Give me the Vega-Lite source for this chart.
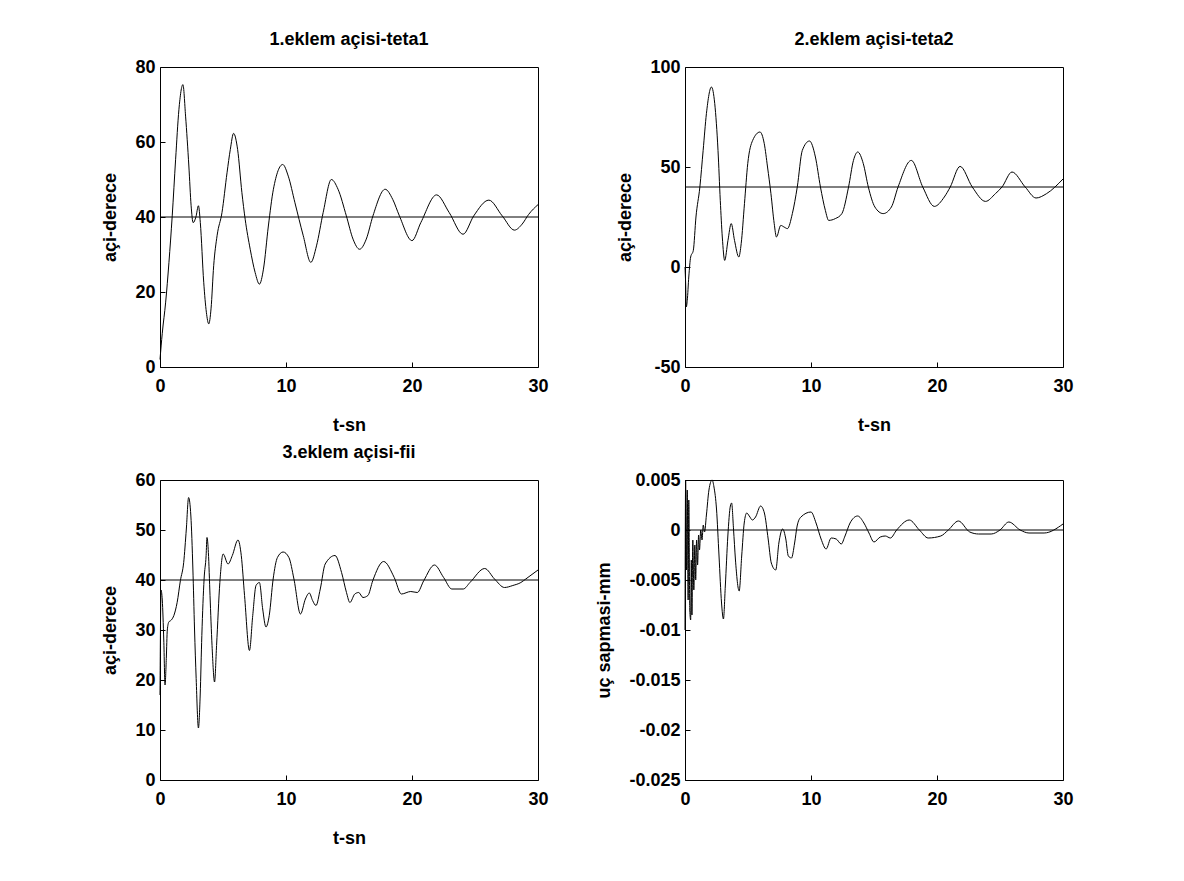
{
  "$schema": "https://vega.github.io/schema/vega-lite/v6.json",
  "background": "white",
  "padding": {"left": 101, "top": 30, "right": 5, "bottom": 5},
  "datasets": {
    "d1": [
      {"t":0,"v":2},{"t":0.18,"v":9},{"t":0.45,"v":17.3},{"t":0.71,"v":27.9},{"t":0.97,"v":40.3},{"t":1.24,"v":55.4},{"t":1.5,"v":68.6},{"t":1.82,"v":75.3},{"t":2.03,"v":66.9},{"t":2.29,"v":53.6},{"t":2.47,"v":43},{"t":2.63,"v":38.5},{"t":2.85,"v":40},{"t":3.05,"v":43},{"t":3.2,"v":38.5},{"t":3.47,"v":22.6},{"t":3.68,"v":14.6},{"t":3.87,"v":11.5},{"t":4.05,"v":15.5},{"t":4.26,"v":27},{"t":4.53,"v":35},{"t":4.92,"v":41.2},{"t":5.32,"v":51.8},{"t":5.58,"v":58},{"t":5.84,"v":62.3},{"t":6.16,"v":58},{"t":6.5,"v":46.5},{"t":6.76,"v":39.4},{"t":7.16,"v":31.4},{"t":7.55,"v":25.2},{"t":7.89,"v":22.1},{"t":8.21,"v":26.1},{"t":8.6,"v":37.6},{"t":9.0,"v":47.4},{"t":9.74,"v":54},{"t":10.18,"v":50.9},{"t":10.71,"v":43.8},{"t":11.37,"v":35},{"t":11.97,"v":27.9},{"t":12.42,"v":32.3},{"t":12.95,"v":41.2},{"t":13.6,"v":50},{"t":14.13,"v":47.4},{"t":14.79,"v":40.3},{"t":15.32,"v":34.1},{"t":15.84,"v":31.4},{"t":16.37,"v":34.1},{"t":16.9,"v":40.3},{"t":17.87,"v":47.4},{"t":18.47,"v":44.7},{"t":19,"v":40.3},{"t":20,"v":33.7},{"t":20.7,"v":38.5},{"t":21.95,"v":45.9},{"t":22.95,"v":41.2},{"t":24.05,"v":35.4},{"t":24.9,"v":40.3},{"t":26.1,"v":44.5},{"t":27.16,"v":40.3},{"t":28.13,"v":36.5},{"t":28.74,"v":38.1},{"t":29.26,"v":40.7},{"t":30,"v":43.3}
    ],
    "d2": [
      {"t":0,"v":0},{"t":0.05,"v":-8},{"t":0.1,"v":-20},{"t":0.18,"v":-16.7},{"t":0.3,"v":-5},{"t":0.45,"v":5},{"t":0.66,"v":8.3},{"t":0.87,"v":25},{"t":1.18,"v":40},{"t":1.44,"v":58.3},{"t":1.7,"v":76.7},{"t":2.1,"v":90},{"t":2.36,"v":81.7},{"t":2.62,"v":58.3},{"t":2.8,"v":33.3},{"t":2.96,"v":15},{"t":3.15,"v":3.3},{"t":3.41,"v":13.3},{"t":3.67,"v":21.7},{"t":3.93,"v":13.3},{"t":4.27,"v":5},{"t":4.46,"v":11.7},{"t":4.72,"v":31.7},{"t":4.98,"v":51.7},{"t":5.37,"v":63.3},{"t":5.95,"v":67.5},{"t":6.29,"v":61.7},{"t":6.55,"v":50},{"t":6.82,"v":36.7},{"t":7.08,"v":21.7},{"t":7.26,"v":15},{"t":7.6,"v":20.8},{"t":7.86,"v":20},{"t":8.13,"v":19.2},{"t":8.52,"v":26.7},{"t":8.91,"v":40},{"t":9.31,"v":58.3},{"t":9.88,"v":63},{"t":10.35,"v":55},{"t":10.75,"v":40},{"t":11.14,"v":28.3},{"t":11.4,"v":23.3},{"t":11.93,"v":24.2},{"t":12.45,"v":26.7},{"t":12.98,"v":40},{"t":13.37,"v":53.3},{"t":13.71,"v":57.5},{"t":14.15,"v":51.7},{"t":14.55,"v":40},{"t":15.07,"v":30},{"t":15.73,"v":26.7},{"t":16.38,"v":30},{"t":16.91,"v":40},{"t":17.96,"v":53.3},{"t":18.87,"v":40},{"t":19.79,"v":30.3},{"t":20.58,"v":35},{"t":21.05,"v":40},{"t":21.83,"v":50.3},{"t":22.8,"v":40},{"t":23.85,"v":32.8},{"t":24.64,"v":36.7},{"t":25.16,"v":40},{"t":25.95,"v":47.5},{"t":27,"v":40},{"t":27.86,"v":34.5},{"t":28.7,"v":36.7},{"t":30,"v":44}
    ],
    "d3": [
      {"t":0,"v":17},{"t":0.08,"v":38},{"t":0.18,"v":36},{"t":0.3,"v":28},{"t":0.4,"v":19},{"t":0.5,"v":24.3},{"t":0.58,"v":30},{"t":0.7,"v":31.6},{"t":0.9,"v":32},{"t":1.1,"v":32.9},{"t":1.36,"v":35.5},{"t":1.62,"v":39.9},{"t":1.88,"v":43.5},{"t":2.09,"v":50.2},{"t":2.27,"v":56.5},{"t":2.45,"v":52.8},{"t":2.61,"v":42.2},{"t":2.74,"v":30.2},{"t":2.87,"v":20.3},{"t":3.05,"v":10.4},{"t":3.19,"v":17},{"t":3.32,"v":28.9},{"t":3.5,"v":40.2},{"t":3.66,"v":44.9},{"t":3.73,"v":48.5},{"t":3.84,"v":45.5},{"t":3.97,"v":36.9},{"t":4.13,"v":26.9},{"t":4.33,"v":19.6},{"t":4.49,"v":26.9},{"t":4.75,"v":39.5},{"t":5.01,"v":45.2},{"t":5.4,"v":43.2},{"t":5.74,"v":44.9},{"t":6.19,"v":48},{"t":6.45,"v":44.9},{"t":6.71,"v":36.9},{"t":7.1,"v":25.9},{"t":7.36,"v":32.9},{"t":7.62,"v":38.9},{"t":7.89,"v":39.5},{"t":8.15,"v":34.2},{"t":8.41,"v":30.6},{"t":8.67,"v":32.9},{"t":8.98,"v":40.2},{"t":9.32,"v":44.5},{"t":9.77,"v":45.6},{"t":10.23,"v":44.5},{"t":10.63,"v":40.2},{"t":11.15,"v":33.2},{"t":11.54,"v":36.2},{"t":11.85,"v":37.4},{"t":12.11,"v":35.9},{"t":12.38,"v":34.9},{"t":12.72,"v":38.2},{"t":13.11,"v":43.2},{"t":13.89,"v":44.9},{"t":14.41,"v":41.5},{"t":14.8,"v":37.5},{"t":15.07,"v":35.5},{"t":15.46,"v":37.2},{"t":15.77,"v":37.5},{"t":16.11,"v":36.5},{"t":16.5,"v":36.9},{"t":16.89,"v":39.9},{"t":17.75,"v":43.7},{"t":18.59,"v":40.5},{"t":19.16,"v":37.2},{"t":19.9,"v":37.7},{"t":20.42,"v":37.5},{"t":20.94,"v":39.9},{"t":21.78,"v":43},{"t":22.51,"v":40.5},{"t":23.16,"v":38.2},{"t":24.07,"v":38.2},{"t":24.6,"v":39.5},{"t":25.77,"v":42.3},{"t":26.55,"v":40.2},{"t":27.34,"v":38.5},{"t":28,"v":38.9},{"t":28.64,"v":39.5},{"t":29.03,"v":40.2},{"t":30,"v":42}
    ],
    "d4": [
      {"t":0,"v":-0.01},{"t":0.05,"v":0.005},{"t":0.12,"v":-0.004},{"t":0.18,"v":0.004},{"t":0.25,"v":-0.007},{"t":0.3,"v":0.003},{"t":0.38,"v":-0.008},{"t":0.45,"v":-0.009},{"t":0.5,"v":-0.003},{"t":0.55,"v":-0.0085},{"t":0.62,"v":-0.001},{"t":0.7,"v":-0.006},{"t":0.78,"v":-0.0015},{"t":0.85,"v":-0.005},{"t":0.92,"v":-0.001},{"t":1.0,"v":-0.0035},{"t":1.08,"v":-0.0005},{"t":1.15,"v":-0.002},{"t":1.25,"v":0.0},{"t":1.35,"v":-0.001},{"t":1.45,"v":0.0005},{"t":1.55,"v":-0.0002},{"t":1.7,"v":0.0015},{"t":1.9,"v":0.004},{"t":2.15,"v":0.005},{"t":2.3,"v":0.0043},{"t":2.5,"v":0.0021},{"t":2.7,"v":-0.0026},{"t":2.9,"v":-0.0073},{"t":3.05,"v":-0.0089},{"t":3.2,"v":-0.0056},{"t":3.4,"v":-0.0006},{"t":3.6,"v":0.0024},{"t":3.7,"v":0.0027},{"t":3.85,"v":0.0001},{"t":4.0,"v":-0.0029},{"t":4.3,"v":-0.0061},{"t":4.5,"v":-0.0026},{"t":4.7,"v":0.0007},{"t":4.9,"v":0.0017},{"t":5.1,"v":0.0014},{"t":5.35,"v":0.001},{"t":5.6,"v":0.0013},{"t":6.0,"v":0.0024},{"t":6.3,"v":0.0017},{"t":6.6,"v":-0.0009},{"t":6.85,"v":-0.0033},{"t":7.2,"v":-0.004},{"t":7.45,"v":-0.0013},{"t":7.75,"v":0.0001},{"t":8.0,"v":-0.0009},{"t":8.2,"v":-0.0026},{"t":8.45,"v":-0.0028},{"t":8.7,"v":-0.0013},{"t":8.9,"v":0.0004},{"t":9.2,"v":0.0013},{"t":10.0,"v":0.0018},{"t":10.4,"v":0.0007},{"t":10.8,"v":-0.0009},{"t":11.2,"v":-0.0019},{"t":11.6,"v":-0.0008},{"t":12.0,"v":-0.0009},{"t":12.4,"v":-0.0014},{"t":12.7,"v":-0.0006},{"t":13.1,"v":0.0007},{"t":13.7,"v":0.0014},{"t":14.2,"v":0.0007},{"t":14.6,"v":-0.0003},{"t":15.0,"v":-0.0012},{"t":15.5,"v":-0.0007},{"t":15.9,"v":-0.0006},{"t":16.3,"v":-0.0008},{"t":16.8,"v":0.0},{"t":17.8,"v":0.001},{"t":18.6,"v":0.0},{"t":19.3,"v":-0.0008},{"t":20.3,"v":-0.0006},{"t":20.9,"v":0.0},{"t":21.7,"v":0.0009},{"t":22.6,"v":-0.0002},{"t":23.3,"v":-0.0004},{"t":24.3,"v":-0.0004},{"t":25.0,"v":0.0},{"t":25.7,"v":0.0008},{"t":26.6,"v":0.0},{"t":27.3,"v":-0.0003},{"t":28.5,"v":-0.0003},{"t":30,"v":0.0006}
    ]
  },
  "columns": 2,
  "bounds": "flush",
  "spacing": {"row": 113, "column": 147},
  "concat": [
    {
      "width": 378, "height": 300,
      "title": "1.eklem açisi-teta1",
      "layer": [
        {
          "data": {"name": "d1"},
          "mark": {"type": "line", "color": "black", "strokeWidth": 1, "interpolate": "monotone"},
          "encoding": {
            "x": {"field": "t", "type": "quantitative", "scale": {"domain": [0, 30], "nice": false}, "axis": {"values": [0, 10, 20, 30], "title": "t-sn"}},
            "y": {"field": "v", "type": "quantitative", "scale": {"domain": [0, 80], "nice": false}, "axis": {"values": [0, 20, 40, 60, 80], "title": "açi-derece"}}
          }
        },
        {
          "data": {"values": [{"ref": 40}]},
          "mark": {"type": "rule", "color": "black", "strokeWidth": 1},
          "encoding": {"y": {"field": "ref", "type": "quantitative"}}
        }
      ]
    },
    {
      "width": 378, "height": 300,
      "title": "2.eklem açisi-teta2",
      "layer": [
        {
          "data": {"name": "d2"},
          "mark": {"type": "line", "color": "black", "strokeWidth": 1, "interpolate": "monotone"},
          "encoding": {
            "x": {"field": "t", "type": "quantitative", "scale": {"domain": [0, 30], "nice": false}, "axis": {"values": [0, 10, 20, 30], "title": "t-sn"}},
            "y": {"field": "v", "type": "quantitative", "scale": {"domain": [-50, 100], "nice": false}, "axis": {"values": [-50, 0, 50, 100], "title": "açi-derece", "labelExpr": "datum.value < 0 ? '-' + format(-datum.value, '~g') : format(datum.value, '~g')"}}
          }
        },
        {
          "data": {"values": [{"ref": 40}]},
          "mark": {"type": "rule", "color": "black", "strokeWidth": 1},
          "encoding": {"y": {"field": "ref", "type": "quantitative"}}
        }
      ]
    },
    {
      "width": 378, "height": 300,
      "title": "3.eklem açisi-fii",
      "layer": [
        {
          "data": {"name": "d3"},
          "mark": {"type": "line", "color": "black", "strokeWidth": 1, "interpolate": "monotone"},
          "encoding": {
            "x": {"field": "t", "type": "quantitative", "scale": {"domain": [0, 30], "nice": false}, "axis": {"values": [0, 10, 20, 30], "title": "t-sn"}},
            "y": {"field": "v", "type": "quantitative", "scale": {"domain": [0, 60], "nice": false}, "axis": {"values": [0, 10, 20, 30, 40, 50, 60], "title": "açi-derece"}}
          }
        },
        {
          "data": {"values": [{"ref": 40}]},
          "mark": {"type": "rule", "color": "black", "strokeWidth": 1},
          "encoding": {"y": {"field": "ref", "type": "quantitative"}}
        }
      ]
    },
    {
      "width": 378, "height": 300,
      "layer": [
        {
          "data": {"name": "d4"},
          "mark": {"type": "line", "color": "black", "strokeWidth": 1, "interpolate": "monotone"},
          "encoding": {
            "x": {"field": "t", "type": "quantitative", "scale": {"domain": [0, 30], "nice": false}, "axis": {"values": [0, 10, 20, 30], "title": null}},
            "y": {"field": "v", "type": "quantitative", "scale": {"domain": [-0.025, 0.005], "nice": false}, "axis": {"values": [-0.025, -0.02, -0.015, -0.01, -0.005, 0, 0.005], "title": "uç sapmasi-mm", "labelExpr": "datum.value < 0 ? '-' + format(-datum.value, '~g') : format(datum.value, '~g')"}}
          }
        },
        {
          "data": {"values": [{"ref": 0}]},
          "mark": {"type": "rule", "color": "black", "strokeWidth": 1},
          "encoding": {"y": {"field": "ref", "type": "quantitative"}}
        }
      ]
    }
  ],
  "config": {
    "font": "Liberation Sans",
    "view": {"stroke": "black", "strokeWidth": 1},
    "axis": {
      "grid": false, "domain": false, "tickColor": "black", "tickSize": -5,
      "labelFont": "Liberation Sans", "labelFontSize": 18, "labelFontWeight": "bold", "labelColor": "black",
      "labelFlush": false, "labelOverlap": false, "labelBound": false,
      "titleFont": "Liberation Sans", "titleFontSize": 18, "titleFontWeight": "bold", "titleColor": "black"
    },
    "axisX": {"labelPadding": 15, "titlePadding": 21},
    "axisY": {"labelPadding": 10, "titlePadding": 15},
    "title": {"font": "Liberation Sans", "fontSize": 18, "fontWeight": "bold", "color": "black", "offset": 9}
  }
}
